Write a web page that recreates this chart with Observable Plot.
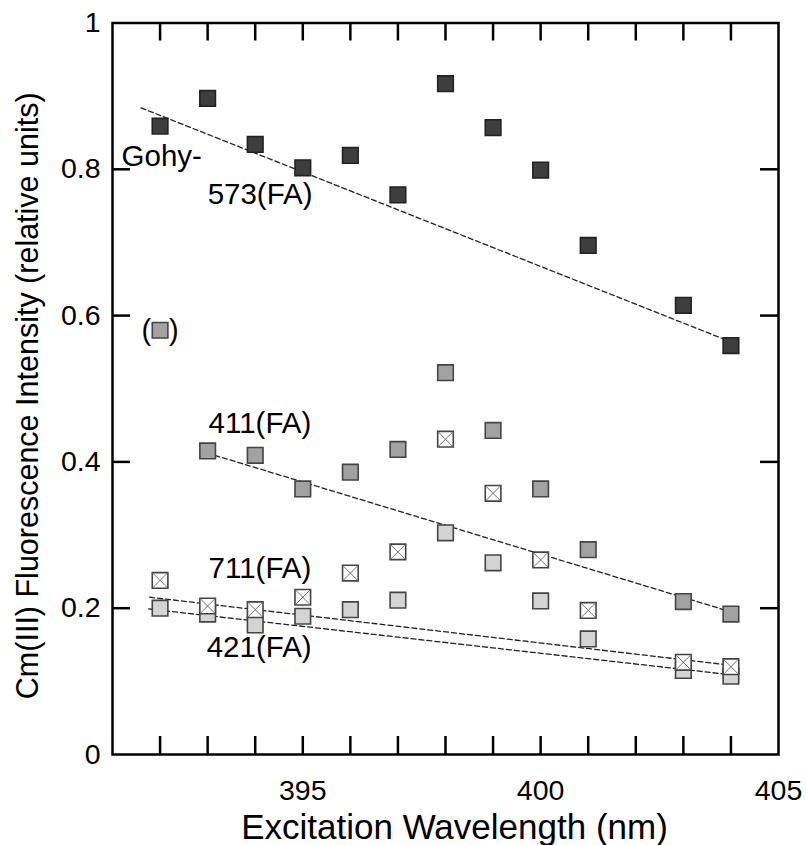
<!DOCTYPE html>
<html>
<head>
<meta charset="utf-8">
<script src="https://cdn.jsdelivr.net/npm/d3@7"></script>
<script src="https://cdn.jsdelivr.net/npm/@observablehq/plot@0.6"></script>
<style>
  html, body { margin: 0; padding: 0; background: white; }
</style>
</head>
<body>
<div id="chart"></div>
<script>
// ---- data ----
const wavelengths = [392, 393, 394, 395, 396, 397, 398, 399, 400, 401, 403, 404];
const gohy573 = [0.859, 0.897, 0.834, 0.802, 0.819, 0.765, 0.917, 0.857, 0.799, 0.696, 0.614, 0.559];
const fa411   = [0.580, 0.415, 0.409, 0.363, 0.386, 0.417, 0.522, 0.443, 0.363, 0.280, 0.209, 0.192];
const fa711   = [0.238, 0.203, 0.198, 0.215, 0.248, 0.277, 0.431, 0.357, 0.266, 0.197, 0.126, 0.120];
const fa421   = [0.200, 0.192, 0.177, 0.189, 0.198, 0.211, 0.303, 0.262, 0.210, 0.158, 0.115, 0.107];

// dashed trend lines (start / end)
const fitX573 = [391.6, 404];   const fitY573 = [0.884, 0.564];
const fitX411 = [393.15, 404];  const fitY411 = [0.409, 0.195];
const fitX711 = [391.78, 404];  const fitY711 = [0.215, 0.122];
const fitX421 = [391.76, 404];  const fitY421 = [0.199, 0.109];

// ticks
const xTickMarks = [392, 393, 394, 395, 396, 397, 398, 399, 400, 401, 402, 403, 404];
const xTickLabels = [395, 400, 405];
const yTicks = [0, 0.2, 0.4, 0.6, 0.8, 1];
const yTickLabels = ["0", "0.2", "0.4", "0.6", "0.8", "1"];
const yTickMarks = [0.2, 0.4, 0.6, 0.8];

// annotations
const annoText = ["Gohy-", "573(FA)", "411(FA)", "711(FA)", "421(FA)"];
const annoX    = [391.19, 393.0, 393.02, 393.02, 392.98];
const annoY    = [0.817, 0.765, 0.453, 0.254, 0.146];

const xTitle = "Excitation Wavelength (nm)";
const yTitle = "Cm(III) Fluorescence Intensity (relative units)";

// ---- build ----
const W = 806, H = 845;
const mL = 112, mR = 28, mT = 22.5, mB = 91;
const pw = W - mL - mR, ph = H - mT - mB;
const tickLen = 18;

const pts = (ys) => wavelengths.map((x, i) => ({x, y: ys[i]}));
const line = (xs, ys) => xs.map((x, i) => ({x, y: ys[i]}));
const annos = annoText.map((t, i) => ({t, x: annoX[i], y: annoY[i]}));

const crossSymbol = {
  draw(ctx, size) {
    const s = Math.sqrt(size) / 2;
    ctx.moveTo(-s, -s); ctx.lineTo(s, s);
    ctx.moveTo(s, -s); ctx.lineTo(-s, s);
  }
};

const R = 8.8;
const dash = {x: "x", y: "y", stroke: "#222", strokeWidth: 1.3, strokeDasharray: "5,3"};

const chart = Plot.plot({
  width: W, height: H,
  marginLeft: mL, marginRight: mR, marginTop: mT, marginBottom: mB,
  style: {fontFamily: "'Liberation Sans', Arial, sans-serif", background: "white", color: "black"},
  x: {domain: [391, 405]},
  y: {domain: [0, 1]},
  marks: [
    // trend lines
    Plot.line(line(fitX573, fitY573), dash),
    Plot.line(line(fitX411, fitY411), dash),
    Plot.line(line(fitX711, fitY711), dash),
    Plot.line(line(fitX421, fitY421), dash),
    // points
    Plot.dot(pts(fa421), {x: "x", y: "y", symbol: "square", r: R, fill: "#d4d4d4", stroke: "#444", strokeWidth: 1.6}),
    Plot.dot(pts(fa711), {x: "x", y: "y", symbol: "square", r: R, fill: "white", stroke: "#444", strokeWidth: 1.6}),
    Plot.dot(pts(fa711), {x: "x", y: "y", symbol: crossSymbol, r: R * 0.92, fill: "none", stroke: "#666", strokeWidth: 0.9}),
    Plot.dot(pts(fa411), {x: "x", y: "y", symbol: "square", r: R, fill: "#a2a2a2", stroke: "#444", strokeWidth: 1.6}),
    Plot.dot(pts(gohy573), {x: "x", y: "y", symbol: "square", r: R, fill: "#3e3e3e", stroke: "#222", strokeWidth: 1.6}),
    // parentheses around the excluded 411 point
    Plot.text([{x: wavelengths[0], y: fa411[0]}], {x: "x", y: "y", text: () => "(", textAnchor: "end", dx: -9, fontSize: 29}),
    Plot.text([{x: wavelengths[0], y: fa411[0]}], {x: "x", y: "y", text: () => ")", textAnchor: "start", dx: 9, fontSize: 29}),
    // series labels
    Plot.text(annos, {x: "x", y: "y", text: "t", textAnchor: "start", fontSize: 29.5, fill: "black"}),
    // frame & inward ticks
    Plot.frame({stroke: "black", strokeWidth: 2.5}),
    Plot.tickX(xTickMarks, {x: d => d, insetTop: ph - tickLen, stroke: "black", strokeWidth: 2.5}),
    Plot.tickX(xTickMarks, {x: d => d, insetBottom: ph - tickLen, stroke: "black", strokeWidth: 2.5}),
    Plot.tickY(yTickMarks, {y: d => d, insetRight: pw - tickLen, stroke: "black", strokeWidth: 2.5}),
    Plot.tickY(yTickMarks, {y: d => d, insetLeft: pw - tickLen, stroke: "black", strokeWidth: 2.5}),
    // axes labels
    Plot.axisX({ticks: xTickLabels, tickSize: 0, tickPadding: 25, fontSize: 28.5, label: null, tickFormat: d => String(d)}),
    Plot.axisY({ticks: yTicks, tickSize: 0, tickPadding: 12, fontSize: 28.5, label: null,
                tickFormat: d => yTickLabels[yTicks.indexOf(d)]}),
    // titles
    Plot.text([xTitle], {frameAnchor: "bottom", text: d => d, lineAnchor: "middle", textAnchor: "middle", dy: 73, dx: 9, fontSize: 35}),
    Plot.text([yTitle], {frameAnchor: "left", text: d => d, lineAnchor: "middle", textAnchor: "middle", dx: -84, dy: 7, rotate: -90, fontSize: 30.5})
  ]
});

document.getElementById("chart").appendChild(chart);
</script>
</body>
</html>
